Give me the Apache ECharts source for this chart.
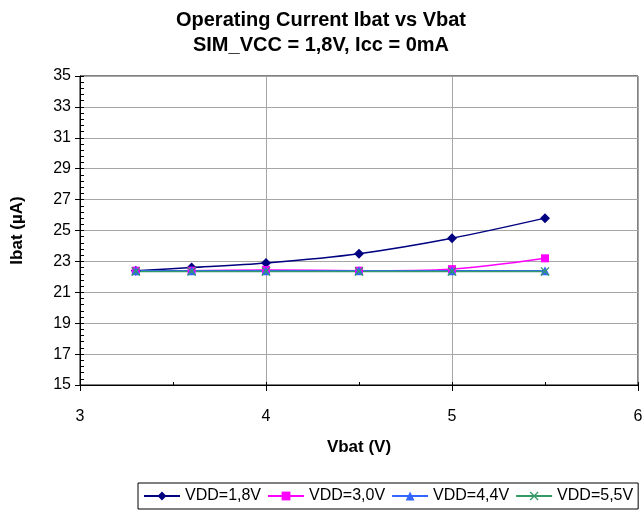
<!DOCTYPE html>
<html>
<head>
<meta charset="utf-8">
<script src="https://cdn.jsdelivr.net/npm/echarts@6/dist/echarts.min.js"></script>
<style>
  html, body { margin: 0; padding: 0; background: #fff; }
  #chart { width: 642px; height: 512px; }
</style>
</head>
<body>
<div id="chart"></div>
<script>
// Battery voltage sweep (V)
const vbat = [3.3, 3.6, 4.0, 4.5, 5.0, 5.5];
// Operating current Ibat (µA) per supply voltage
const vdd18 = [22.4, 22.6, 22.9, 23.5, 24.5, 25.8];
const vdd30 = [22.4, 22.4, 22.45, 22.4, 22.5, 23.2];
const vdd44 = [22.4, 22.4, 22.4, 22.4, 22.4, 22.4];
const vdd55 = [22.35, 22.35, 22.35, 22.35, 22.35, 22.35];
const seriesNames = ['VDD=1,8V', 'VDD=3,0V', 'VDD=4,4V', 'VDD=5,5V'];

const FONT = '"Liberation Sans", Arial, sans-serif';
const crossPath = 'path://M0,1L1,0L5,4L9,0L10,1L6,5L10,9L9,10L5,6L1,10L0,9L4,5Z';

const pairs = ys => vbat.map((x, i) => [x, ys[i]]);

function line(name, ys, color, symbol, size) {
  return {
    name: name,
    type: 'line',
    data: pairs(ys),
    xAxisIndex: 0,
    yAxisIndex: 0,
    smooth: 0.3,
    symbol: symbol,
    symbolSize: size,
    showSymbol: true,
    lineStyle: { color: color, width: 1.5 },
    itemStyle: { color: color },
    emphasis: { disabled: true },
    animation: false
  };
}

const chart = echarts.init(document.getElementById('chart'), null, { renderer: 'canvas' });
chart.setOption({
  backgroundColor: '#fff',
  animation: false,
  textStyle: { fontFamily: FONT },
  title: {
    text: 'Operating Current Ibat vs Vbat\nSIM_VCC = 1,8V, Icc = 0mA',
    left: 'center',
    top: 3,
    textStyle: { fontFamily: FONT, fontSize: 20, fontWeight: 'bold', color: '#000', lineHeight: 25 }
  },
  legend: {
    data: seriesNames,
    left: 138,
    top: 483,
    orient: 'horizontal',
    itemWidth: 36,
    itemHeight: 11,
    itemGap: 6,
    padding: [5, 5],
    borderColor: '#000',
    borderWidth: 1,
    textStyle: { fontFamily: FONT, fontSize: 16, color: '#000' }
  },
  grid: {
    left: 80, right: 4, top: 76, bottom: 127,
    outerBoundsMode: 'none',
    containLabel: false,
    show: true, borderColor: '#000', borderWidth: 1, backgroundColor: '#fff'
  },
  xAxis: [
    {
      type: 'value', min: 3, max: 6, interval: 1, position: 'bottom',
      name: 'Vbat (V)', nameLocation: 'middle', nameGap: 54,
      nameTextStyle: { fontFamily: FONT, fontSize: 17, fontWeight: 'bold', color: '#000' },
      axisLine: { show: true, lineStyle: { color: '#000', width: 1 } },
      axisTick: { show: true, inside: false, length: 6, lineStyle: { color: '#000' } },
      axisLabel: { margin: 24, fontFamily: FONT, fontSize: 16, color: '#000' },
      splitLine: { show: true, lineStyle: { color: '#a6a6a6', width: 1 } }
    },
    {
      // inner tick marks along the bottom edge
      type: 'value', min: 3, max: 6, interval: 1, position: 'bottom',
      axisLine: { show: false },
      axisTick: { show: true, inside: true, length: 3, lineStyle: { color: '#000' } },
      minorTick: { show: true, splitNumber: 2, length: 3, lineStyle: { color: '#000' } },
      axisLabel: { show: false },
      splitLine: { show: false }
    }
  ],
  yAxis: [
    {
      type: 'value', min: 15, max: 35, interval: 2, position: 'left',
      name: 'Ibat (µA)', nameLocation: 'middle', nameGap: 54, nameRotate: 90,
      nameTextStyle: { fontFamily: FONT, fontSize: 17, fontWeight: 'bold', color: '#000' },
      axisLine: { show: true, lineStyle: { color: '#000', width: 1 } },
      axisTick: { show: true, inside: false, length: 5, lineStyle: { color: '#000' } },
      axisLabel: { margin: 9, fontFamily: FONT, fontSize: 16, color: '#000' },
      splitLine: { show: true, lineStyle: { color: '#a6a6a6', width: 1 } }
    },
    {
      // inner tick marks along the left edge
      type: 'value', min: 15, max: 35, interval: 2, position: 'left',
      axisLine: { show: false },
      axisTick: { show: true, inside: true, length: 4, lineStyle: { color: '#000' } },
      minorTick: { show: true, splitNumber: 5, length: 4, lineStyle: { color: '#000' } },
      axisLabel: { show: false },
      splitLine: { show: false }
    }
  ],
  series: [
    line(seriesNames[0], vdd18, '#000080', 'diamond', 10),
    line(seriesNames[1], vdd30, '#ff00ff', 'rect', 8),
    line(seriesNames[2], vdd44, '#3366ff', 'triangle', 9),
    line(seriesNames[3], vdd55, '#339966', crossPath, 9)
  ]
});
</script>
</body>
</html>
